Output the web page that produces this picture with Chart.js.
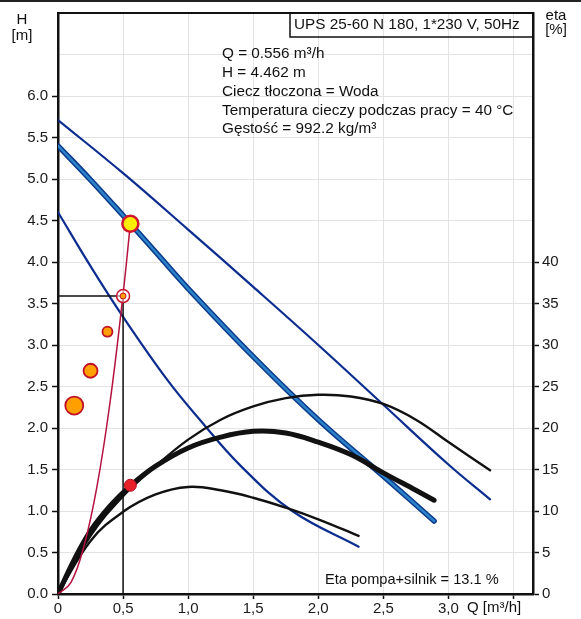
<!DOCTYPE html>
<html>
<head>
<meta charset="utf-8">
<script src="https://cdn.jsdelivr.net/npm/chart.js@4.4.1/dist/chart.umd.min.js"></script>
<style>
  html, body { margin: 0; padding: 0; background: #fff; }
  #wrap { width: 581px; height: 619px; }
</style>
</head>
<body>
<div id="wrap"><canvas id="pumpChart" width="581" height="619"></canvas></div>
<script>
// axes
const qTicks = [0, 0.5, 1, 1.5, 2, 2.5, 3, 3.5];
const qTickLabels = ['0', '0,5', '1,0', '1,5', '2,0', '2,5', '3,0', ''];
const hTicks = [0, 0.5, 1, 1.5, 2, 2.5, 3, 3.5, 4, 4.5, 5, 5.5, 6, 6.5, 7];
const hTickLabels = ['0.0', '0.5', '1.0', '1.5', '2.0', '2.5', '3.0', '3.5', '4.0', '4.5', '5.0', '5.5', '6.0', '', ''];
const etaTicks = [0, 5, 10, 15, 20, 25, 30, 35, 40];

// H-Q curves (three speeds)
const qHigh = [0, 0.5, 1.0, 1.5, 2.0, 2.5, 3.0, 3.32];
const hHigh = [5.71, 5.07, 4.39, 3.70, 3.00, 2.28, 1.56, 1.14];
const qMid = [0, 0.25, 0.5, 0.75, 1.0, 1.5, 2.0, 2.5, 2.89];
const hMid = [5.40, 4.99, 4.56, 4.12, 3.68, 2.86, 2.10, 1.42, 0.88];
const qLow = [0, 0.25, 0.5, 0.84, 1.09, 1.4, 1.8, 2.31];
const hLow = [4.60, 3.95, 3.34, 2.58, 2.10, 1.55, 1.00, 0.57];

// efficiency curves [%]
const qEtaHigh = [0, 0.25, 0.5, 0.75, 1.0, 1.25, 1.5, 1.75, 2.0, 2.25, 2.5, 2.75, 3.0, 3.32];
const etaHigh = [0, 7.0, 11.8, 15.4, 18.6, 21.0, 22.6, 23.6, 24.0, 23.8, 22.9, 21.0, 18.3, 14.9];
const qEtaMid = [0, 0.12, 0.25, 0.4, 0.554, 0.75, 1.0, 1.25, 1.5, 1.75, 2.0, 2.25, 2.5, 2.75, 2.89];
const etaMid = [0, 4.0, 7.6, 10.6, 13.0, 15.4, 17.6, 18.9, 19.6, 19.4, 18.3, 16.8, 14.6, 12.5, 11.3];
const qEtaLow = [0, 0.25, 0.5, 0.75, 1.0, 1.25, 1.5, 1.75, 2.0, 2.31];
const etaLow = [0, 6.4, 9.9, 12.0, 12.9, 12.5, 11.6, 10.4, 9.0, 7.0];

// system curve
const qSys = [0, 0.1, 0.2, 0.3, 0.4, 0.5, 0.556];
const hSys = [0, 0.14, 0.58, 1.30, 2.31, 3.61, 4.46];

// markers
const dotQ = [0.125, 0.25, 0.38];
const dotH = [2.27, 2.69, 3.16];
const dotR = [9, 7, 5];
const ringQ = [0.5];
const ringH = [3.59];
const dropQ = [0, 0.5, 0.5];
const dropH = [3.59, 3.59, 0];
const dutyQ = [0.556];
const dutyH = [4.46];
const dutyEta = [13.1];

const xy = (q, v) => q.map((x, i) => ({ x: x, y: v[i] }));

Chart.defaults.font.family = '"Liberation Sans", Arial, sans-serif';
Chart.defaults.font.size = 15;
Chart.defaults.color = '#1a1a1a';

const lineDs = (data, color, width, axis, tension) => ({
    data: data,
    borderColor: color,
    borderWidth: width,
    pointRadius: 0,
    fill: false,
    tension: tension === undefined ? 0.4 : tension,
    borderCapStyle: 'round',
    yAxisID: axis || 'h'
});

const txt = '"Liberation Sans", Arial, sans-serif';
const annotations = {
    id: 'annotations',
    afterDraw(chart) {
        const c = chart.ctx;
        const a = chart.chartArea;
        c.save();
        c.fillStyle = '#222';
        c.fillRect(0, 0, 581, 2);
        c.strokeStyle = '#111';
        c.lineWidth = 2;
        c.beginPath();
        c.moveTo(a.left - 1, a.top);
        c.lineTo(a.right + 1, a.top);
        c.stroke();
        // title box
        c.lineWidth = 1.5;
        c.strokeRect(290, a.top, a.right - 290, 24);
        c.fillStyle = '#111';
        c.font = '15.3px ' + txt;
        c.textBaseline = 'middle';
        c.textAlign = 'left';
        c.fillText('UPS 25-60 N 180, 1*230 V, 50Hz', 294, 25);
        const info = ['Q = 0.556 m³/h', 'H = 4.462 m', 'Ciecz tłoczona = Woda',
            'Temperatura cieczy podczas pracy = 40 °C', 'Gęstość = 992.2 kg/m³'];
        info.forEach((s, i) => c.fillText(s, 222, 54 + i * 18.8));
        c.font = '14.6px ' + txt;
        c.fillText('Eta pompa+silnik = 13.1 %', 325, 580);
        c.font = '15px ' + txt;
        c.fillText('Q [m³/h]', 467, 608);
        c.textAlign = 'center';
        c.fillText('H', 22, 20);
        c.fillText('[m]', 22, 36);
        c.fillText('eta', 556, 16);
        c.fillText('[%]', 556, 30);
        c.restore();
    }
};

new Chart(document.getElementById('pumpChart'), {
    type: 'line',
    data: {
        datasets: [
            { data: xy(dutyQ, dutyH), showLine: false, pointRadius: 8, backgroundColor: '#ffee00', borderColor: '#d0142c', borderWidth: 2.5, yAxisID: 'h' },
            { data: xy(dutyQ, dutyEta), showLine: false, pointRadius: 6, backgroundColor: '#e8202a', borderColor: '#b01020', borderWidth: 1, yAxisID: 'eta' },
            { data: xy(ringQ, ringH), showLine: false, pointRadius: 3, backgroundColor: '#ffa000', borderColor: '#c8102e', borderWidth: 1, yAxisID: 'h' },
            { data: xy(ringQ, ringH), showLine: false, pointRadius: 6.5, backgroundColor: 'rgba(255,255,255,0.6)', borderColor: '#c8102e', borderWidth: 1.5, yAxisID: 'h' },
            { data: xy(dotQ, dotH), showLine: false, pointRadius: dotR, backgroundColor: '#ffa000', borderColor: '#c01028', borderWidth: 1.8, yAxisID: 'h' },
            lineDs(xy(qSys, hSys), '#b5123f', 1.5),
            lineDs(xy(dropQ, dropH), '#111', 1.5, 'h', 0),
            lineDs(xy(qEtaMid, etaMid), '#111', 5, 'eta'),
            lineDs(xy(qEtaHigh, etaHigh), '#111', 2.4, 'eta'),
            lineDs(xy(qEtaLow, etaLow), '#111', 2.4, 'eta'),
            lineDs(xy(qMid, hMid), '#2c82c9', 2.5),
            lineDs(xy(qMid, hMid), '#0b3a8c', 5.5),
            lineDs(xy(qHigh, hHigh), '#0c2d8f', 2.2),
            lineDs(xy(qLow, hLow), '#0c2d8f', 2.2)
        ]
    },
    options: {
        responsive: false,
        animation: false,
        devicePixelRatio: 1,
        layout: { padding: { top: 13, left: 0, right: 0, bottom: 0 } },
        plugins: { legend: { display: false }, tooltip: { enabled: false } },
        scales: {
            x: {
                type: 'linear',
                min: 0,
                max: 3.65,
                afterBuildTicks: s => { s.ticks = qTicks.map(v => ({ value: v })); },
                afterFit: s => { s.height = 25; },
                ticks: { callback: (v, i) => qTickLabels[i], padding: 1, maxRotation: 0 },
                grid: { color: '#e3e3e3', tickColor: '#111', tickLength: 5, tickWidth: 1.5 },
                border: { color: '#111', width: 2.5 }
            },
            h: {
                type: 'linear',
                position: 'left',
                min: 0,
                max: 7,
                afterBuildTicks: s => { s.ticks = hTicks.map(v => ({ value: v })); },
                afterFit: s => { s.width = 58; },
                ticks: { callback: (v, i) => hTickLabels[i], padding: 4 },
                grid: {
                    color: '#e3e3e3',
                    tickColor: ctx => (ctx.tick && ctx.tick.value > 6 ? 'rgba(0,0,0,0)' : '#111'),
                    tickLength: 6,
                    tickWidth: 1.5
                },
                border: { color: '#111', width: 2.5 }
            },
            eta: {
                type: 'linear',
                position: 'right',
                min: 0,
                max: 70,
                afterBuildTicks: s => { s.ticks = etaTicks.map(v => ({ value: v })); },
                afterFit: s => { s.width = 48; },
                ticks: { padding: 3 },
                grid: { drawOnChartArea: false, tickColor: '#111', tickLength: 6, tickWidth: 1.5 },
                border: { color: '#111', width: 2.5 }
            }
        }
    },
    plugins: [annotations]
});
</script>
</body>
</html>
